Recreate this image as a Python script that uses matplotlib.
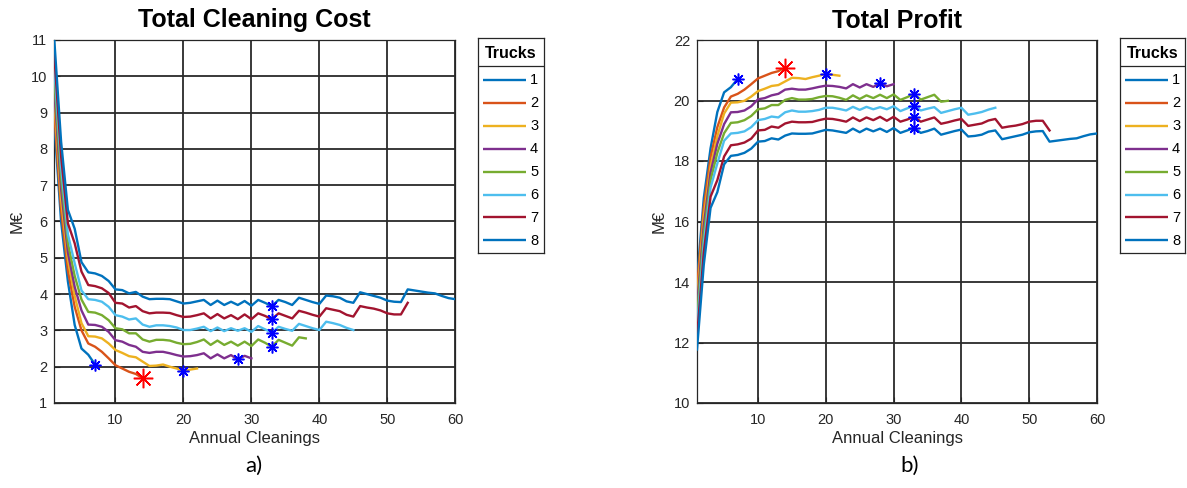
import matplotlib
matplotlib.use("Agg")
import matplotlib.pyplot as plt

W, H = 1187, 488

# Fleet sizes and their MATLAB-style colour order
trucks = [1, 2, 3, 4, 5, 6, 7, 8]
colors = ["#0072BD", "#D95319", "#EDB120", "#7E2F8E",
          "#77AC30", "#4DBEEE", "#A2142F", "#0072BD"]

# Total cleaning cost (M€) vs. number of annual cleanings (1, 2, ...)
cost_1 = [8.7, 6.0, 4.35, 3.15, 2.5, 2.33, 2.06]
cost_2 = [8.95, 6.3, 4.65, 3.65, 3.0, 2.64, 2.55, 2.41, 2.23, 2.04,
          1.95, 1.86, 1.8, 1.68]
cost_3 = [9.3, 6.6, 4.95, 3.95, 3.2, 2.84, 2.83, 2.78, 2.64, 2.46,
          2.38, 2.29, 2.26, 2.14, 2.02, 2.03, 2.06, 2.0, 1.95, 1.89,
          1.92, 1.95]
cost_4 = [9.6, 6.9, 5.15, 4.2, 3.55, 3.16, 3.15, 3.1, 2.96, 2.73,
          2.69, 2.6, 2.55, 2.41, 2.38, 2.41, 2.41, 2.37, 2.32, 2.28,
          2.29, 2.32, 2.37, 2.23, 2.34, 2.23, 2.32, 2.2, 2.3, 2.23]
cost_5 = [9.9, 7.2, 5.4, 4.5, 3.85, 3.51, 3.49, 3.42, 3.28, 3.06,
          3.03, 2.92, 2.92, 2.75, 2.69, 2.74, 2.74, 2.72, 2.66, 2.62,
          2.63, 2.68, 2.75, 2.6, 2.72, 2.6, 2.69, 2.58, 2.69, 2.57,
          2.75, 2.66, 2.55, 2.74, 2.66, 2.58, 2.81, 2.78]
cost_6 = [10.25, 7.5, 5.65, 4.85, 4.1, 3.86, 3.84, 3.79, 3.65, 3.42,
          3.38, 3.3, 3.33, 3.16, 3.1, 3.14, 3.14, 3.12, 3.08, 3.01,
          3.01, 3.05, 3.1, 2.98, 3.08, 2.98, 3.06, 2.99, 3.06, 2.96,
          3.12, 3.03, 2.94, 3.1, 3.04, 2.99, 3.18, 3.12, 3.06, 3.01,
          3.24, 3.2, 3.15, 3.07, 3.01]
cost_7 = [10.6, 7.8, 5.95, 5.4, 4.62, 4.25, 4.22, 4.16, 4.03, 3.76,
          3.74, 3.63, 3.67, 3.53, 3.47, 3.49, 3.49, 3.48, 3.42, 3.37,
          3.38, 3.42, 3.47, 3.33, 3.45, 3.33, 3.42, 3.31, 3.44, 3.31,
          3.47, 3.4, 3.31, 3.47, 3.4, 3.33, 3.54, 3.49, 3.43, 3.38,
          3.61, 3.57, 3.53, 3.43, 3.38, 3.67, 3.63, 3.6, 3.55, 3.47,
          3.44, 3.44, 3.76]
cost_8 = [11.0, 8.2, 6.32, 5.8, 4.88, 4.6, 4.57, 4.5, 4.36, 4.13,
          4.11, 4.02, 4.06, 3.93, 3.86, 3.87, 3.87, 3.86, 3.8, 3.74,
          3.76, 3.8, 3.84, 3.7, 3.82, 3.7, 3.79, 3.7, 3.81, 3.68,
          3.84, 3.76, 3.67, 3.84, 3.78, 3.7, 3.9, 3.84, 3.78, 3.73,
          3.96, 3.94, 3.9, 3.8, 3.76, 4.05, 4.0, 3.95, 3.9, 3.82,
          3.79, 3.78, 4.13, 4.1, 4.07, 4.04, 4.02, 3.95, 3.89, 3.86]

# Total profit (M€) vs. number of annual cleanings
profit_1 = [14.07, 16.77, 18.42, 19.62, 20.27, 20.44, 20.71]
profit_2 = [13.82, 16.47, 18.12, 19.12, 19.77, 20.13, 20.22, 20.36, 20.54, 20.73,
            20.82, 20.91, 20.97, 21.09]
profit_3 = [13.47, 16.17, 17.82, 18.82, 19.57, 19.93, 19.94, 19.99, 20.13, 20.31,
            20.39, 20.48, 20.51, 20.63, 20.75, 20.74, 20.71, 20.77, 20.82, 20.88,
            20.85, 20.82]
profit_4 = [13.17, 15.87, 17.62, 18.57, 19.22, 19.61, 19.62, 19.67, 19.81, 20.04,
            20.08, 20.17, 20.22, 20.36, 20.39, 20.36, 20.36, 20.4, 20.45, 20.49,
            20.48, 20.45, 20.4, 20.54, 20.43, 20.54, 20.45, 20.57, 20.47, 20.54]
profit_5 = [12.87, 15.57, 17.37, 18.27, 18.92, 19.26, 19.28, 19.35, 19.49, 19.71,
            19.74, 19.85, 19.85, 20.02, 20.08, 20.03, 20.03, 20.05, 20.11, 20.15,
            20.14, 20.09, 20.02, 20.17, 20.05, 20.17, 20.08, 20.19, 20.08, 20.2,
            20.02, 20.11, 20.22, 20.03, 20.11, 20.19, 19.96, 19.99]
profit_6 = [12.52, 15.27, 17.12, 17.92, 18.67, 18.91, 18.93, 18.98, 19.12, 19.35,
            19.39, 19.47, 19.44, 19.61, 19.67, 19.63, 19.63, 19.65, 19.69, 19.76,
            19.76, 19.72, 19.67, 19.79, 19.69, 19.79, 19.71, 19.78, 19.71, 19.81,
            19.65, 19.74, 19.83, 19.67, 19.73, 19.78, 19.59, 19.65, 19.71, 19.76,
            19.53, 19.57, 19.62, 19.7, 19.76]
profit_7 = [12.17, 14.97, 16.82, 17.37, 18.15, 18.52, 18.55, 18.61, 18.74, 19.01,
            19.03, 19.14, 19.1, 19.24, 19.3, 19.28, 19.28, 19.29, 19.35, 19.4,
            19.39, 19.35, 19.3, 19.44, 19.32, 19.44, 19.35, 19.46, 19.33, 19.46,
            19.3, 19.37, 19.46, 19.3, 19.37, 19.44, 19.23, 19.28, 19.34, 19.39,
            19.16, 19.2, 19.24, 19.34, 19.39, 19.1, 19.14, 19.17, 19.22, 19.3,
            19.33, 19.33, 19.01]
profit_8 = [11.77, 14.57, 16.45, 16.97, 17.89, 18.17, 18.2, 18.27, 18.41, 18.64,
            18.66, 18.75, 18.71, 18.84, 18.91, 18.9, 18.9, 18.91, 18.97, 19.03,
            19.01, 18.97, 18.93, 19.07, 18.95, 19.07, 18.98, 19.07, 18.96, 19.09,
            18.93, 19.01, 19.1, 18.93, 18.99, 19.07, 18.87, 18.93, 18.99, 19.04,
            18.81, 18.83, 18.87, 18.97, 19.01, 18.72, 18.77, 18.82, 18.87, 18.95,
            18.98, 18.99, 18.64, 18.67, 18.7, 18.73, 18.75, 18.82, 18.88, 18.91]

costs = [cost_1, cost_2, cost_3, cost_4, cost_5, cost_6, cost_7, cost_8]
profits = [profit_1, profit_2, profit_3, profit_4, profit_5, profit_6, profit_7, profit_8]

# Best number of annual cleanings for each fleet size, and the overall optimum
best_cleanings = [7, 14, 20, 28, 33, 33, 33, 33]
optimal_truck = 2

cost_yticks = list(range(1, 12))
profit_yticks = list(range(10, 23, 2))
x_ticks = list(range(10, 61, 10))

plt.rcParams["font.family"] = ["Liberation Sans", "DejaVu Sans"]
INK = "#262626"

fig = plt.figure(figsize=(W / 100, H / 100), dpi=100)


def px_rect(x0, y0, x1, y1):
    return [x0 / W, 1 - y1 / H, (x1 - x0) / W, (y1 - y0) / H]


def asterisk(ax, x, y, big):
    ax.plot([x], [y], linestyle="none", marker=(8, 2, 0),
            markersize=14 if big else 8.5,
            markeredgecolor="#FF0000" if big else "#0000FF",
            markeredgewidth=1.1 if big else 1.1, zorder=5, clip_on=False)


def panel(rect, series, ylim, yticks, title, ylabel_x):
    ax = fig.add_axes(rect)
    for k, vals in enumerate(series):
        ax.plot(range(1, len(vals) + 1), vals, color=colors[k], lw=1.7,
                solid_joinstyle="round", zorder=3)
    for k, (n, vals) in enumerate(zip(best_cleanings, series)):
        asterisk(ax, n, vals[n - 1], trucks[k] == optimal_truck)
    ax.set_xlim(1, 60)
    ax.set_ylim(*ylim)
    ax.set_xticks(x_ticks)
    ax.set_yticks(yticks)
    ax.grid(True, color="#2a2a2a", lw=1.3)
    ax.set_axisbelow(True)
    ax.tick_params(direction="in", length=4, width=0.8, colors=INK, labelsize=10.5)
    ax.tick_params(axis="x", pad=7)
    ax.tick_params(axis="y", pad=5)
    for s in ax.spines.values():
        s.set_color(INK)
        s.set_linewidth(0.9)
    ax.set_title(title, fontsize=18, fontweight="bold", pad=9, color="black")
    ax.set_xlabel("Annual Cleanings", fontsize=12, color=INK)
    ax.xaxis.set_label_coords(0.5, -0.077)
    ax.set_ylabel("M€", fontsize=12, color=INK)
    ax.yaxis.set_label_coords(ylabel_x, 0.5)
    return ax


def legend_box(x0, x1):
    y0, y1 = 38, 253
    lg = fig.add_axes(px_rect(x0, y0, x1, y1))
    lg.set_xlim(x0, x1)
    lg.set_ylim(y1, y0)
    lg.set_xticks([])
    lg.set_yticks([])
    for s in lg.spines.values():
        s.set_color(INK)
        s.set_linewidth(0.9)
    lg.text((x0 + x1) / 2, 54, "Trucks", fontsize=11.5, fontweight="bold",
            ha="center", va="center", color="black")
    lg.plot([x0, x1], [65.7, 65.7], color=INK, lw=0.9)
    for i, t in enumerate(trucks):
        y = 80 + 22.9 * i
        lg.plot([x0 + 4.7, x0 + 48], [y, y], color=colors[i], lw=1.7,
                solid_capstyle="butt")
        lg.text(x0 + 52, y + 0.5, str(t), fontsize=10.5, ha="left",
                va="center", color="black")


panel(px_rect(54.3, 40, 455.3, 403), costs, (1, 11), cost_yticks,
      "Total Cleaning Cost", -0.073)
panel(px_rect(697, 40, 1097, 403), profits, (10, 22), profit_yticks,
      "Total Profit", -0.075)
legend_box(478, 544)
legend_box(1120, 1185)

fig.text(254 / W, 1 - 466 / H, "a)", fontsize=16, ha="center", va="center",
         family=["Lato", "DejaVu Sans"])
fig.text(910 / W, 1 - 466 / H, "b)", fontsize=16, ha="center", va="center",
         family=["Lato", "DejaVu Sans"])

fig.savefig("out.png", dpi=100)
